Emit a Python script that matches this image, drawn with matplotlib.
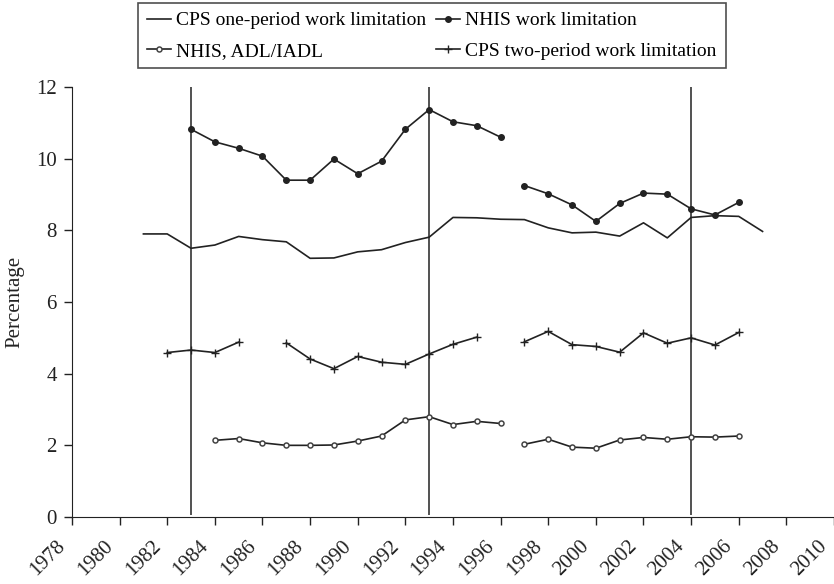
import numpy as np
import matplotlib
matplotlib.use("Agg")
from matplotlib import pyplot as plt
from matplotlib import transforms

nan = np.nan

years = list(range(1981, 2008))

# CPS one-period work limitation, 1981-2007
cps_one = [7.90, 7.90, 7.50, 7.59, 7.83, 7.74, 7.68, 7.22, 7.23, 7.40,
           7.46, 7.66, 7.81, 8.36, 8.35, 8.31, 8.30, 8.07, 7.93, 7.95,
           7.84, 8.21, 7.79, 8.36, 8.41, 8.39, 7.97]

# NHIS work limitation, 1981-2007
nhis_work = [nan, nan, 10.82, 10.47, 10.29, 10.07, 9.40, 9.40, 9.99, 9.58,
             9.93, 10.82, 11.37, 11.03, 10.92, 10.60, 9.25, 9.02, 8.71, 8.25,
             8.75, 9.04, 9.01, 8.60, 8.43, 8.78, nan]

# NHIS ADL/IADL, 1981-2007
nhis_adl = [nan, nan, nan, 2.14, 2.19, 2.07, 2.00, 2.00, 2.01, 2.12,
            2.26, 2.71, 2.80, 2.58, 2.67, 2.61, 2.03, 2.17, 1.95, 1.92,
            2.15, 2.22, 2.17, 2.24, 2.23, 2.26, nan]

# CPS two-period work limitation, 1981-2007
cps_two = [nan, 4.59, 4.66, 4.59, 4.88, nan, 4.86, 4.41, 4.14, 4.48,
           4.32, 4.26, 4.55, 4.82, 5.02, nan, 4.89, 5.18, 4.81, 4.76,
           4.60, 5.14, 4.85, 5.00, 4.80, 5.15, nan]

# survey redesign years
breaks = [1983, 1993, 2004]

plt.rcParams["font.family"] = ["Liberation Serif", "DejaVu Serif"]

fig = plt.figure(figsize=(8.34, 5.84), dpi=100)
ax = fig.add_axes([0.0863, 0.1147, 0.9137, 0.7363])

c = "#222222"
ax.vlines(breaks, 0.05, 12, color=c, lw=1.1)

# NHIS series are not joined between 1996 and 1997
x = np.array(years, dtype=float)
xs = np.insert(x, 16, 1996.5)
nw_s = np.insert(np.array(nhis_work), 16, nan)
na_s = np.insert(np.array(nhis_adl), 16, nan)

l1, = ax.plot(x, cps_one, color=c, lw=1.2, label="CPS one-period work limitation")
l2, = ax.plot(xs, nw_s, color=c, lw=1.2, marker="o", ms=4,
              label="NHIS work limitation")
l3, = ax.plot(xs, na_s, color=c, lw=1.2, marker="o", ms=3.6, mfc="white",
              mec="#444444", mew=1.1, label="NHIS, ADL/IADL")
l4, = ax.plot(x, cps_two, color=c, lw=1.2, marker="+", ms=5.5, mew=1.0,
              label="CPS two-period work limitation")

ax.set_xlim(1978, 2010)
ax.set_ylim(0, 12)
ax.set_xticks(range(1978, 2011, 2))
ax.set_yticks(range(0, 13, 2))
ax.tick_params(axis="both", labelsize=15, colors="#222222", length=6, width=1)
ax.tick_params(axis="y", pad=5)
ax.tick_params(axis="x", pad=8)
shift = transforms.ScaledTranslation(-16 / 100, 0, fig.dpi_scale_trans)
for lab in ax.get_xticklabels():
    lab.set_rotation(45)
    lab.set_ha("right")
    lab.set_rotation_mode("anchor")
    lab.set_transform(lab.get_transform() + shift)
ax.set_ylabel("Percentage", fontsize=15, color="#222222", labelpad=8)
ax.spines["top"].set_visible(False)
ax.spines["right"].set_visible(False)
ax.spines["left"].set_color("#222222")
ax.spines["bottom"].set_color("#222222")

leg = fig.legend([l1, l3, l2, l4],
                 [l1.get_label(), l3.get_label(), l2.get_label(), l4.get_label()],
                 loc="upper center", bbox_to_anchor=(432 / 834, 1 - 3 / 584),
                 borderaxespad=0, ncol=2, fontsize=14, frameon=True, fancybox=False,
                 handlelength=1.2, handletextpad=0.3, columnspacing=0.5,
                 borderpad=0.45, labelspacing=0.65, edgecolor="#222222")
leg.get_frame().set_linewidth(1.2)

fig.savefig("out.png", dpi=100)
